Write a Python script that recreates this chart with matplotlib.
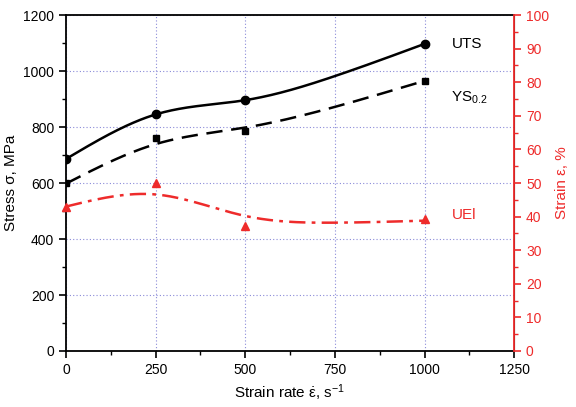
import numpy as np
import matplotlib
matplotlib.use('Agg')
from matplotlib import pyplot as plt
from matplotlib.ticker import MultipleLocator

plt.rcParams['font.family'] = ['Liberation Sans', 'DejaVu Sans']
plt.rcParams['mathtext.fontset'] = 'custom'
plt.rcParams['mathtext.rm'] = 'Liberation Sans'
plt.rcParams['mathtext.it'] = 'Liberation Sans:italic'

# measured points
rate = [0, 250, 500, 1000]
uts = [686, 845, 896, 1097]
ys = [600, 762, 786, 965]
uel = [43, 50, 37.3, 39.3]

# trend line values (knots)
trend_x = [0, 250, 500, 750, 1000]
uts_trend = [686, 845, 896, 982, 1097]
ys_trend = [598, 739, 798, 872, 965]
uel_trend = [43, 46.6, 40.2, 38.2, 38.8]

red = '#ee2b2b'
grid_c = '#8a8ad8'

fig = plt.figure(figsize=(5.76, 4.07), dpi=100)
ax = fig.add_axes([0.1146, 0.1376, 0.778, 0.8254])
ax2 = ax.twinx()

xs = np.linspace(0, 1000, 300)

def spline(kx, ky):
    # natural cubic spline through the knots
    kx = np.asarray(kx, float); ky = np.asarray(ky, float)
    n = len(kx)
    h = np.diff(kx)
    A = np.zeros((n, n)); b = np.zeros(n)
    A[0, 0] = 1; A[-1, -1] = 1
    for i in range(1, n - 1):
        A[i, i - 1] = h[i - 1]
        A[i, i] = 2 * (h[i - 1] + h[i])
        A[i, i + 1] = h[i]
        b[i] = 6 * ((ky[i + 1] - ky[i]) / h[i] - (ky[i] - ky[i - 1]) / h[i - 1])
    m = np.linalg.solve(A, b)
    out = np.empty_like(xs)
    for j, x in enumerate(xs):
        i = min(np.searchsorted(kx, x, side='right') - 1, n - 2)
        t = x - kx[i]; hi = h[i]
        a = (kx[i + 1] - x) / hi; c = t / hi
        out[j] = (a * ky[i] + c * ky[i + 1]
                  + ((a ** 3 - a) * m[i] + (c ** 3 - c) * m[i + 1]) * hi ** 2 / 6)
    return out

ax.plot(xs, spline(trend_x, uts_trend), color='black', lw=1.8)
ax.plot(rate, uts, 'o', color='black', ms=6)
ax.plot(xs, spline(trend_x, ys_trend), color='black', lw=1.8, dashes=(6.5, 3.5))
ax.plot(rate, ys, 's', color='black', ms=5)
ax2.plot(xs, spline(trend_x, uel_trend), color=red, lw=1.8, dashes=(6.5, 2.5, 1.5, 2.5))
ax2.plot(rate, uel, '^', color=red, ms=6, clip_on=False)

ax.set_xlim(0, 1250)
ax.set_ylim(0, 1200)
ax2.set_ylim(0, 100)

ax.xaxis.set_major_locator(MultipleLocator(250))
ax.xaxis.set_minor_locator(MultipleLocator(125))
ax.yaxis.set_major_locator(MultipleLocator(200))
ax.yaxis.set_minor_locator(MultipleLocator(100))
ax2.yaxis.set_major_locator(MultipleLocator(10))
ax2.yaxis.set_minor_locator(MultipleLocator(5))

ax.grid(True, which='major', color=grid_c, ls=(0, (1, 2)), lw=0.8)
ax.tick_params(which='major', direction='out', length=5, width=1.2, labelsize=10)
ax.tick_params(which='minor', direction='out', length=3, width=1.0)
ax2.tick_params(which='major', direction='out', length=5, width=1.2, labelsize=10,
                colors=red)
ax2.tick_params(which='minor', direction='out', length=3, width=1.0, colors=red)

for s in ['left', 'bottom', 'top']:
    ax.spines[s].set_linewidth(1.3)
ax2.spines['right'].set_color(red)
ax2.spines['right'].set_linewidth(1.3)
ax2.spines['left'].set_visible(False)
ax2.spines['top'].set_visible(False)
ax2.spines['bottom'].set_visible(False)

ax.set_xlabel(r'Strain rate $\dot{\mathrm{\varepsilon}}$, s$^{-1}$', fontsize=11, labelpad=4)
ax.set_ylabel('Stress σ, MPa', fontsize=11, labelpad=4)
ax2.set_ylabel('Strain ε, %', fontsize=11, color=red, labelpad=4)

ax.text(1075, 1097, 'UTS', fontsize=11, va='center')
ax.text(1075, 905, r'YS$_{0.2}$', fontsize=11, va='center')
ax2.text(1075, 40.5, 'UEl', fontsize=11, va='center', color=red)

fig.savefig('out.png', dpi=100)
